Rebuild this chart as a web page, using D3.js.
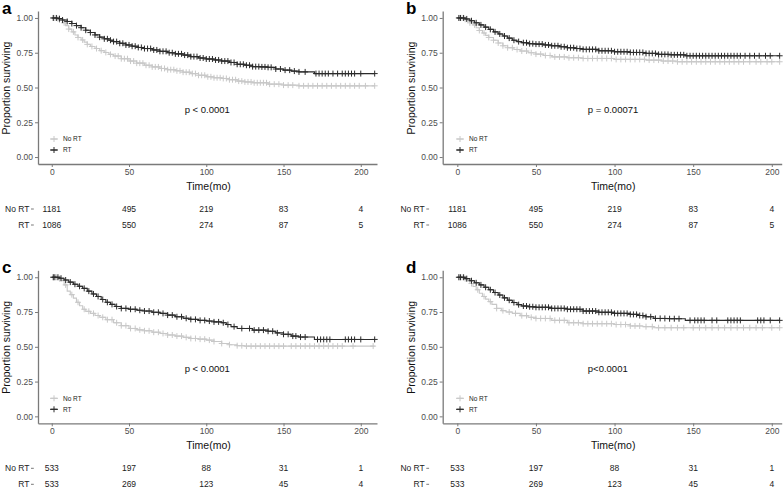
<!DOCTYPE html>
<html><head><meta charset="utf-8">
<script src="https://cdn.jsdelivr.net/npm/d3@7/dist/d3.min.js"></script>
<style>body{margin:0;background:#fff}svg{display:block;font-family:"Liberation Sans",Arial,sans-serif}</style>
</head><body><svg id="chart" width="784" height="488"></svg>
<script>
// ---------- data ----------
const timeTicks = [0, 50, 100, 150, 200];
const survTicks = [0, 0.25, 0.5, 0.75, 1];
const groups = ["No RT", "RT"];

// Panel a
const aNoT = [0,3,5,7,9,11,13,15,17,19,21,23,25,28,31,34,37,40,45,50,55,60,65,70,75,80,85,90,95,100,105,110,115,120,125,130,140,150,160,209];
const aNoS = [1.0,0.995,0.985,0.965,0.945,0.92,0.9,0.877,0.86,0.842,0.826,0.81,0.795,0.78,0.765,0.752,0.738,0.726,0.707,0.69,0.675,0.66,0.648,0.637,0.628,0.62,0.61,0.6,0.588,0.577,0.57,0.565,0.556,0.546,0.54,0.534,0.524,0.517,0.512,0.512];
const aNoC = [1,2,4,5,8,11,14,17,20,23,26,29,32,35,38,41,43,45,47,49,51,53,55,57,59,61,63,65,67,69,71,73,75,77,79,81,83,85,87,89,91,93,95,97,99,101,103,105,107,109,111,113,115,117,119,121,123,125,127,129,131,133,135,137,139,141,144,147,150,153,156,160,163,166,169,172,175,178,181,184,187,190,193,196,199,203,209];
const aRTT = [0,4,7,10,13,16,19,22,25,28,31,34,37,40,44,48,52,56,60,65,70,75,80,85,90,95,100,105,110,115,120,125,130,135,140,145,150,155,160,170,209];
const aRTS = [1.0,0.995,0.985,0.975,0.96,0.945,0.93,0.912,0.895,0.878,0.862,0.85,0.84,0.83,0.818,0.806,0.797,0.788,0.78,0.77,0.76,0.75,0.742,0.733,0.722,0.712,0.705,0.698,0.69,0.68,0.667,0.66,0.65,0.648,0.645,0.633,0.625,0.618,0.612,0.6,0.6];
const aRTC = [1,3,5,7,10,13,16,19,22,25,28,31,34,36,38,40,42,44,46,48,50,52,54,56,58,60,62,64,66,68,70,72,74,76,78,80,82,84,86,88,90,92,94,96,98,100,102,104,106,108,110,112,114,116,118,120,122,124,126,128,130,132,134,136,138,140,142,145,148,151,154,157,160,164,171,173,175,177,179,182,185,188,190,192,194,196,200,209];
const aRiskNo = [1181, 495, 219, 83, 4];
const aRiskRT = [1086, 550, 274, 87, 5];
const aP = "p < 0.0001";

// Panel b
const bNoT = [0,4,6,8,10,12,14,16,18,20,23,26,29,32,36,40,45,50,55,60,70,80,100,120,130,140,205];
const bNoS = [1.0,0.99,0.98,0.965,0.95,0.93,0.91,0.892,0.875,0.86,0.84,0.82,0.8,0.786,0.773,0.762,0.75,0.74,0.73,0.72,0.714,0.709,0.702,0.697,0.69,0.685,0.685];
const bNoC = [1,3,5,8,11,14,17,20,23,26,29,32,35,38,41,44,47,50,53,56,59,62,65,68,71,74,77,80,83,86,89,92,95,98,101,104,107,110,113,116,119,122,125,128,131,134,137,140,143,146,149,152,155,158,161,164,167,170,173,176,179,182,186,190,193,197,200,205];
const bRTT = [0,5,8,11,14,17,20,23,26,29,32,35,38,41,45,50,55,60,65,70,75,80,90,100,110,120,128,135,145,205];
const bRTS = [1.0,0.993,0.98,0.965,0.95,0.934,0.918,0.9,0.885,0.87,0.855,0.84,0.83,0.822,0.815,0.812,0.806,0.8,0.793,0.786,0.78,0.774,0.764,0.757,0.752,0.745,0.738,0.735,0.728,0.728];
const bRTC = [1,2,4,6,9,12,15,18,21,24,27,30,33,36,39,42,44,46,48,50,52,54,56,58,60,62,64,66,68,70,72,74,76,78,80,82,84,86,88,90,92,94,96,98,100,102,104,106,108,110,112,114,116,118,120,122,124,126,128,130,132,134,136,138,140,142,144,146,148,150,152,154,156,158,160,162,164,166,168,170,172,174,176,178,180,183,186,189,192,196,199,205];
const bRiskNo = [1181, 495, 219, 83, 4];
const bRiskRT = [1086, 550, 274, 87, 5];
const bP = "p = 0.00071";

// Panel c
const cNoT = [0,4,6,8,10,12,14,16,18,20,22,25,28,31,35,40,45,50,55,60,65,70,75,80,85,90,95,100,105,110,115,120,125,209];
const cNoS = [1.0,0.99,0.975,0.945,0.9,0.875,0.85,0.82,0.795,0.77,0.755,0.74,0.725,0.712,0.695,0.673,0.652,0.632,0.622,0.615,0.605,0.596,0.585,0.577,0.568,0.56,0.555,0.548,0.538,0.524,0.515,0.508,0.505,0.505];
const cNoC = [1,3,5,9,13,17,21,24,27,30,33,36,39,42,45,48,51,54,57,60,63,66,69,72,75,78,81,84,87,90,93,96,99,102,105,110,115,120,123,126,129,132,135,138,141,144,147,150,155,158,161,164,167,170,173,176,179,182,185,188,195,208];
const cRTT = [0,5,8,11,14,17,20,23,26,29,32,35,38,41,45,50,55,60,65,70,75,80,85,90,95,100,105,110,113,116,120,130,140,145,150,155,160,170,209];
const cRTS = [1.0,0.993,0.98,0.965,0.95,0.935,0.92,0.9,0.88,0.862,0.84,0.82,0.805,0.79,0.776,0.77,0.763,0.757,0.748,0.74,0.728,0.716,0.705,0.697,0.69,0.685,0.679,0.673,0.66,0.645,0.632,0.62,0.612,0.6,0.59,0.577,0.57,0.553,0.553];
const cRTC = [1,2,4,6,9,12,15,18,21,24,27,30,33,36,39,42,45,48,51,54,57,60,63,66,69,72,75,78,81,84,87,90,93,96,99,102,105,108,111,114,118,123,128,131,134,137,140,143,146,150,153,156,158,161,164,172,174,176,178,180,190,192,194,196,200,209];
const cRiskNo = [533, 197, 88, 31, 1];
const cRiskRT = [533, 269, 123, 45, 4];
const cP = "p < 0.0001";

// Panel d
const dNoT = [0,4,6,8,10,12,14,16,18,20,22,25,28,31,35,40,45,50,60,70,80,100,110,118,125,205];
const dNoS = [1.0,0.99,0.975,0.955,0.933,0.91,0.885,0.862,0.843,0.825,0.805,0.776,0.76,0.75,0.74,0.724,0.712,0.704,0.69,0.673,0.666,0.66,0.65,0.645,0.637,0.637];
const dNoC = [1,3,5,9,13,17,21,25,29,33,37,41,44,47,50,53,56,59,62,65,68,71,74,77,80,83,86,89,92,95,98,101,104,107,110,113,116,120,124,128,132,136,140,144,150,154,158,162,166,170,174,178,182,186,190,194,200,205];
const dRTT = [0,5,8,11,14,17,20,23,26,29,32,35,38,41,45,50,60,70,80,90,100,110,115,120,125,135,145,205];
const dRTS = [1.0,0.99,0.975,0.96,0.945,0.928,0.91,0.89,0.872,0.852,0.835,0.818,0.803,0.793,0.788,0.784,0.776,0.77,0.757,0.748,0.74,0.733,0.725,0.716,0.704,0.702,0.69,0.69];
const dRTC = [1,2,4,6,9,12,15,18,21,24,27,30,33,36,39,42,44,46,48,50,52,54,56,58,60,62,64,66,68,70,72,74,76,78,80,82,84,86,88,90,92,94,96,98,100,102,104,106,108,110,112,114,116,118,120,123,126,129,132,135,138,141,148,151,153,155,157,162,165,172,174,176,178,180,191,193,195,199,205];
const dRiskNo = [533, 197, 88, 31, 1];
const dRiskRT = [533, 269, 123, 45, 4];
const dP = "p<0.0001";

// ---------- layout ----------
const COL_NO = "#c8c8c8", COL_RT = "#2b2b2b", AXIS = "#7a7a7a", TICKTXT = "#4d4d4d";
const panels = [
  {letter:"a", oy:0, xDomain:[-8.9,210.5], xRange:[38,377], letterX:2, ylabX:10, riskTick:31, legX:50, pT:86,
   series:[{t:aNoT,s:aNoS,c:aNoC,col:COL_NO},{t:aRTT,s:aRTS,c:aRTC,col:COL_RT}], risk:[aRiskNo,aRiskRT], p:aP},
  {letter:"b", oy:0, xDomain:[-9.3,206.3], xRange:[442.7,781.7], letterX:406, ylabX:415, riskTick:426.3, legX:456, pT:83,
   series:[{t:bNoT,s:bNoS,c:bNoC,col:COL_NO},{t:bRTT,s:bRTS,c:bRTC,col:COL_RT}], risk:[bRiskNo,bRiskRT], p:bP},
  {letter:"c", oy:259.3, xDomain:[-8.9,210.5], xRange:[38,377], letterX:2, ylabX:10, riskTick:31, legX:50, pT:86,
   series:[{t:cNoT,s:cNoS,c:cNoC,col:COL_NO},{t:cRTT,s:cRTS,c:cRTC,col:COL_RT}], risk:[cRiskNo,cRiskRT], p:cP},
  {letter:"d", oy:259.3, xDomain:[-9.3,206.3], xRange:[442.7,781.7], letterX:406, ylabX:415, riskTick:426.3, legX:456, pT:83,
   series:[{t:dNoT,s:dNoS,c:dNoC,col:COL_NO},{t:dRTT,s:dRTS,c:dRTC,col:COL_RT}], risk:[dRiskNo,dRiskRT], p:dP}
];

const svg = d3.select("#chart");
const cross = "M-3,0H3M0,-3V3";

panels.forEach(P => {
  const g = svg.append("g");
  const oy = P.oy;
  const x = d3.scaleLinear().domain(P.xDomain).range(P.xRange);
  const y = d3.scaleLinear().domain([-0.05, 1.05]).range([164 + oy, 11 + oy]);

  // curves
  P.series.forEach(S => {
    const pts = S.t.map((t, i) => [t, S.s[i]]);
    g.append("path").datum(pts)
      .attr("d", d3.line().x(d => x(d[0])).y(d => y(d[1])).curve(d3.curveStepAfter))
      .attr("fill", "none").attr("stroke", S.col).attr("stroke-width", 1.1);
    const bis = d3.bisector(d => d).right;
    g.selectAll(null).data(S.c).join("path")
      .attr("d", cross)
      .attr("transform", c => {
        const i = Math.max(0, bis(S.t, c) - 1);
        return `translate(${x(c)},${y(S.s[i])})`;
      })
      .attr("fill", "none").attr("stroke", S.col).attr("stroke-width", 1);
  });

  // axes
  const xa = g.append("g").attr("transform", `translate(0,${164 + oy})`)
    .call(d3.axisBottom(x).tickValues(timeTicks).tickSize(3).tickSizeOuter(0).tickPadding(2));
  const ya = g.append("g").attr("transform", `translate(${P.xRange[0]},0)`)
    .call(d3.axisLeft(y).tickValues(survTicks).tickFormat(d3.format(".2f")).tickSize(3).tickSizeOuter(0).tickPadding(2));
  [xa, ya].forEach(a => {
    a.select(".domain").attr("stroke", AXIS).attr("stroke-width", 1.3);
    a.selectAll(".tick line").attr("stroke", AXIS);
    a.selectAll(".tick text").attr("fill", TICKTXT).attr("font-size", 8.5).attr("font-family", "Liberation Sans, Arial, sans-serif");
  });

  // labels
  g.append("text").attr("x", P.letterX).attr("y", 13.5 + oy).text(P.letter)
    .attr("font-size", 17).attr("font-weight", "bold").attr("fill", "#000");
  g.append("text").attr("transform", `translate(${P.ylabX},${88 + oy}) rotate(-90)`)
    .attr("text-anchor", "middle").attr("font-size", 10.5).attr("fill", "#111").text("Proportion surviving");
  g.append("text").attr("x", (P.xRange[0] + P.xRange[1]) / 2 + 1).attr("y", 189.5 + oy)
    .attr("text-anchor", "middle").attr("font-size", 10.5).attr("fill", "#111").text("Time(mo)");
  g.append("text").attr("x", x(P.pT)).attr("y", 112.5 + oy)
    .attr("font-size", 9.5).attr("fill", "#111").text(P.p);

  // legend
  groups.forEach((name, i) => {
    const ly = 139 + i * 11 + oy;
    const col = P.series[i].col;
    g.append("line").attr("x1", P.legX).attr("x2", P.legX + 8).attr("y1", ly).attr("y2", ly)
      .attr("stroke", col).attr("stroke-width", 1.1);
    g.append("path").attr("d", cross).attr("transform", `translate(${P.legX + 4},${ly})`)
      .attr("stroke", col).attr("fill", "none");
    g.append("text").attr("x", P.legX + 13).attr("y", ly).attr("dy", "0.35em")
      .attr("font-size", 6.5).attr("fill", "#222").text(name);
  });

  // risk table
  groups.forEach((name, i) => {
    const ry = 209 + i * 16 + oy;
    g.append("text").attr("x", P.riskTick - 1.5).attr("y", ry).attr("dy", "0.35em")
      .attr("text-anchor", "end").attr("font-size", 8.5).attr("fill", "#222").text(name);
    g.append("line").attr("x1", P.riskTick).attr("x2", P.riskTick + 2.8).attr("y1", ry).attr("y2", ry)
      .attr("stroke", AXIS);
    g.selectAll(null).data(P.risk[i]).join("text")
      .attr("x", (d, j) => x(timeTicks[j])).attr("y", ry).attr("dy", "0.35em")
      .attr("text-anchor", "middle").attr("font-size", 8.5).attr("fill", "#222").text(d => d);
  });
});
</script></body></html>
